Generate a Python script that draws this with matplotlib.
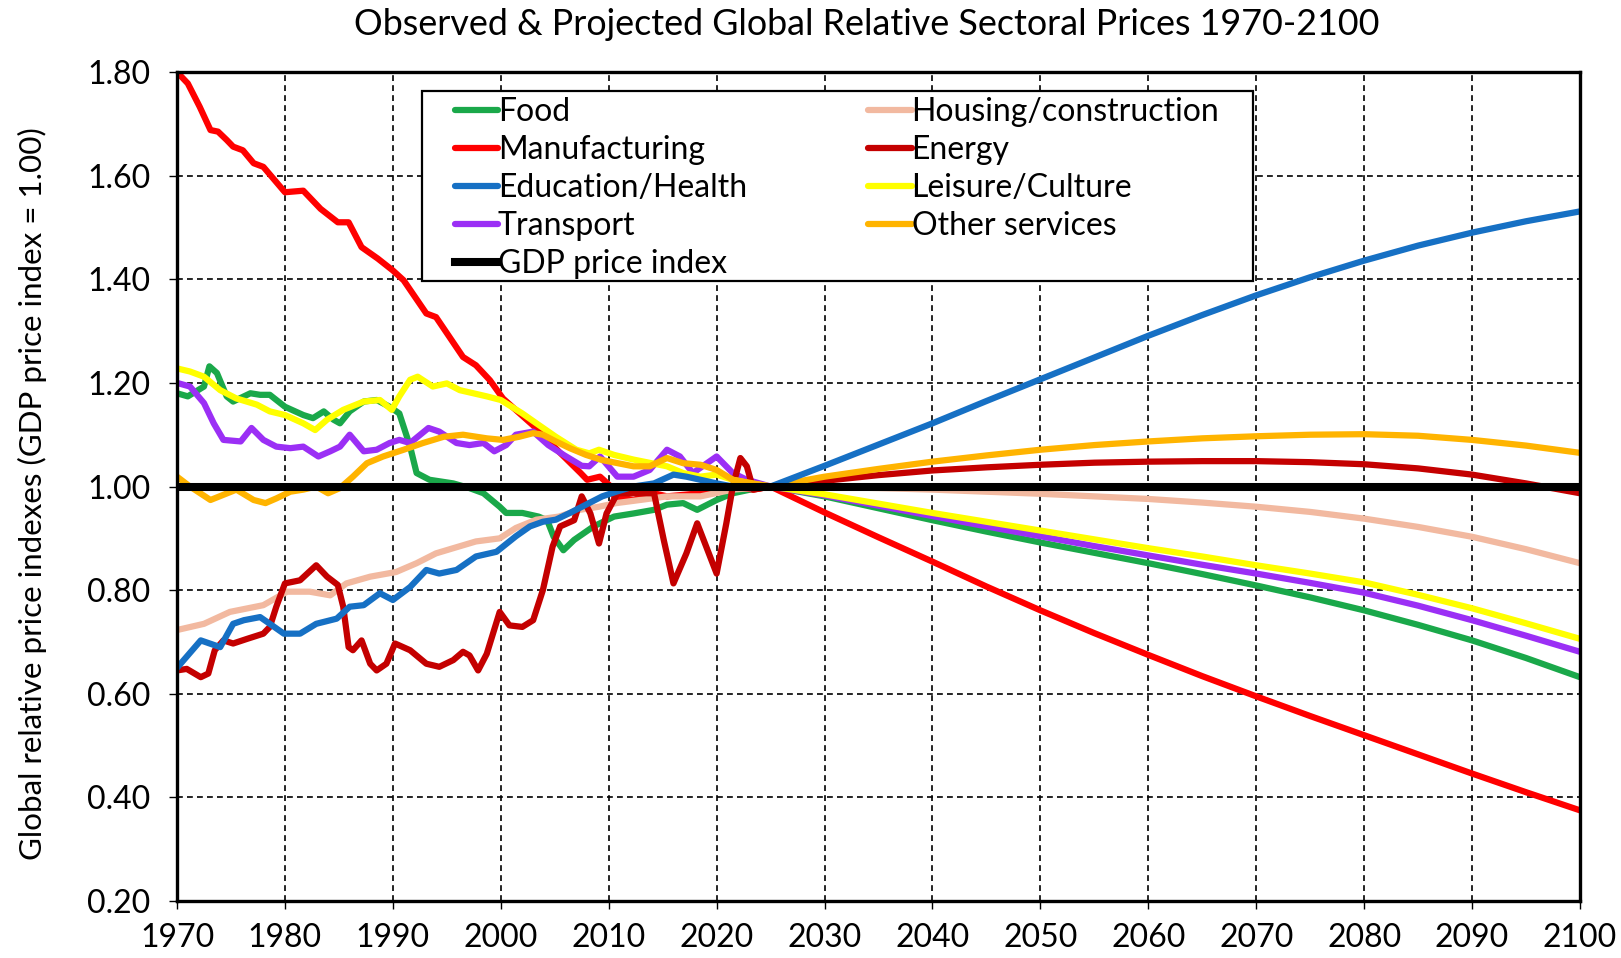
import matplotlib
matplotlib.use("Agg")
from matplotlib import pyplot as plt
from matplotlib.patches import Rectangle
import numpy as np

plt.rcParams['font.family'] = ['Lato', 'DejaVu Sans']

# observed series (year, value)
food_yr = [1970, 1971, 1972.5, 1973, 1973.7, 1974.6, 1975.2, 1976.8, 1977.7, 1978.6,
           1980, 1981.7, 1982.6, 1983.6, 1984.5, 1985.1, 1986, 1987.3, 1988.5, 1989.7,
           1990.6, 1991.6, 1992.2, 1993.4, 1995.6, 1997.1, 1998.4, 1999.9, 2000.5, 2002,
           2003.5, 2004.3, 2004.9, 2005.8, 2006.8, 2008.6, 2010.5, 2012.3, 2014.2, 2015.4,
           2016.9, 2018.2, 2020, 2021.5, 2023.1]
food_val = [1.18, 1.174, 1.193, 1.232, 1.219, 1.174, 1.164, 1.18, 1.177, 1.177,
            1.154, 1.138, 1.132, 1.145, 1.129, 1.122, 1.145, 1.164, 1.167, 1.154,
            1.141, 1.077, 1.026, 1.013, 1.006, 0.997, 0.987, 0.961, 0.949, 0.949,
            0.942, 0.935, 0.903, 0.877, 0.897, 0.923, 0.942, 0.948, 0.955, 0.965,
            0.968, 0.955, 0.974, 0.987, 0.994]

manu_yr = [1970, 1971, 1972.1, 1973.1, 1973.8, 1974.6, 1975.2, 1976.1, 1977.1, 1978,
           1980, 1981.7, 1983.3, 1984.9, 1985.9, 1987.1, 1988.6, 1990, 1991, 1993.1,
           1994, 1996.5, 1997.7, 1999, 2000.2, 2003.1, 2005.5, 2007.4, 2008, 2009.2,
           2010.2, 2010.5, 2012.3, 2014.2, 2015.4, 2018.5, 2020.3, 2021.5, 2023.4]
manu_val = [1.80, 1.778, 1.733, 1.688, 1.685, 1.669, 1.656, 1.649, 1.624, 1.617,
            1.568, 1.571, 1.536, 1.51, 1.51, 1.462, 1.44, 1.417, 1.398, 1.334,
            1.327, 1.25, 1.234, 1.205, 1.17, 1.116, 1.065, 1.026, 1.013, 1.019,
            1.0, 0.981, 0.974, 0.987, 0.981, 0.987, 0.99, 1.0, 0.994]

edu_yr = [1970, 1972.2, 1974, 1975.2, 1976.2, 1977.7, 1978.6, 1979.9, 1981.4, 1982.9,
          1984.8, 1986, 1987.3, 1988.8, 1990, 1991.6, 1993.1, 1994.3, 1995.9, 1997.7,
          1999.6, 2001.4, 2002.7, 2003.9, 2005.1, 2006.4, 2007.9, 2009.4, 2010.7, 2012.3,
          2014.2, 2016, 2017.2, 2018.5, 2020, 2021.5, 2023.1]
edu_val = [0.65, 0.703, 0.69, 0.735, 0.742, 0.748, 0.735, 0.716, 0.716, 0.735,
           0.745, 0.768, 0.771, 0.794, 0.781, 0.806, 0.839, 0.832, 0.839, 0.865,
           0.874, 0.904, 0.923, 0.932, 0.936, 0.949, 0.965, 0.981, 0.99, 1.0,
           1.006, 1.023, 1.019, 1.013, 1.006, 1.0, 0.997]

trans_yr = [1970, 1971.2, 1972.5, 1973.4, 1974.3, 1975.9, 1976.9, 1978, 1979.2, 1980.5,
            1981.7, 1983.1, 1984.2, 1985.1, 1986, 1987.3, 1988.5, 1989.7, 1990.6, 1991.6,
            1993.3, 1994.3, 1995.9, 1997.1, 1998.4, 1999.4, 2000.5, 2001.4, 2003, 2004.4,
            2005.9, 2007.5, 2008.2, 2009.2, 2010.8, 2012.3, 2013.8, 2015.4, 2016.6, 2017.8,
            2020, 2021.5, 2022.8]
trans_val = [1.2, 1.193, 1.161, 1.122, 1.09, 1.087, 1.113, 1.09, 1.077, 1.074,
             1.077, 1.058, 1.068, 1.077, 1.1, 1.068, 1.071, 1.084, 1.09, 1.084,
             1.113, 1.106, 1.084, 1.08, 1.084, 1.068, 1.08, 1.1, 1.106, 1.08,
             1.06, 1.04, 1.039, 1.058, 1.019, 1.019, 1.032, 1.071, 1.058, 1.026,
             1.058, 1.026, 1.013]

house_yr = [1970, 1972.5, 1974.9, 1978, 1980.2, 1982.3, 1984.2, 1985.7, 1987.9, 1990.3,
            1992.2, 1994, 1995.6, 1997.7, 1999.9, 2001.4, 2003.3, 2005.4, 2007.3, 2009.1,
            2010.7, 2012.9, 2015.4, 2018.5, 2021.5]
house_val = [0.723, 0.735, 0.758, 0.771, 0.797, 0.797, 0.79, 0.813, 0.826, 0.835,
             0.852, 0.871, 0.881, 0.894, 0.9, 0.92, 0.936, 0.942, 0.955, 0.961,
             0.968, 0.974, 0.981, 0.981, 0.994]

energy_yr = [1970, 1970.9, 1972.2, 1972.9, 1973.5, 1974.3, 1975.2, 1976.5, 1978, 1978.6,
             1979.2, 1980, 1981.4, 1982.9, 1983.9, 1984.9, 1985.4, 1985.9, 1986.3, 1987.1,
             1987.9, 1988.5, 1989.4, 1990.2, 1991.6, 1993.1, 1994.3, 1995.6, 1996.5, 1997.1,
             1997.9, 1998.7, 1999.9, 2000.8, 2002, 2003, 2003.9, 2004.8, 2005.5, 2006.8,
             2007.5, 2008.3, 2009.1, 2009.8, 2010.8, 2012.3, 2014.2, 2015.1, 2016, 2017.2,
             2018.2, 2020, 2020.9, 2021.5, 2022.2, 2022.8, 2023.4]
energy_val = [0.645, 0.648, 0.632, 0.639, 0.684, 0.703, 0.697, 0.706, 0.716, 0.729,
              0.768, 0.813, 0.819, 0.848, 0.826, 0.81, 0.768, 0.69, 0.684, 0.703,
              0.658, 0.645, 0.658, 0.697, 0.684, 0.658, 0.652, 0.665, 0.681, 0.674,
              0.645, 0.677, 0.758, 0.732, 0.729, 0.742, 0.80, 0.884, 0.923, 0.935,
              0.981, 0.948, 0.89, 0.948, 0.987, 0.987, 0.987, 0.897, 0.813, 0.871,
              0.929, 0.832, 0.929, 1.0, 1.055, 1.039, 0.994]

leis_yr = [1970, 1971.2, 1972.5, 1974, 1975.5, 1977.4, 1978.6, 1980, 1981.7, 1982.8,
           1983.9, 1985.4, 1987.3, 1988.8, 1989.9, 1990.6, 1991.6, 1992.3, 1993.7, 1995,
           1996.2, 1998.7, 2000, 2002, 2003.3, 2005.1, 2007, 2008.2, 2009.1, 2010.5,
           2012.3, 2015.4, 2016.9, 2018.5, 2020, 2021.5, 2023.1]
leis_val = [1.228, 1.222, 1.212, 1.186, 1.17, 1.158, 1.145, 1.138, 1.122, 1.109,
            1.129, 1.148, 1.164, 1.167, 1.148, 1.174, 1.206, 1.212, 1.193, 1.199,
            1.186, 1.174, 1.167, 1.141, 1.122, 1.096, 1.071, 1.064, 1.071, 1.061,
            1.052, 1.039, 1.026, 1.019, 1.023, 1.013, 1.006]

other_yr = [1970, 1971.2, 1973.1, 1974.3, 1975.5, 1977.1, 1978.2, 1979.2, 1980.5, 1981.7,
            1982.9, 1984, 1985.1, 1986.3, 1987.6, 1989.1, 1991, 1992.8, 1994.7, 1996.5,
            1998.7, 2000.2, 2001.7, 2003, 2003.9, 2005.1, 2006.4, 2007.9, 2009.4, 2012.3,
            2013.8, 2015.4, 2016.9, 2018.5, 2020, 2021.5]
other_val = [1.019, 1.0, 0.974, 0.984, 0.994, 0.974, 0.968, 0.977, 0.99, 0.994,
             1.0, 0.987, 0.997, 1.019, 1.045, 1.058, 1.071, 1.084, 1.096, 1.1,
             1.093, 1.09, 1.096, 1.103, 1.1, 1.087, 1.074, 1.061, 1.051, 1.039,
             1.039, 1.055, 1.045, 1.042, 1.032, 1.013]

# projections 2025-2100
proj_yr = [2025, 2030, 2035, 2040, 2045, 2050, 2055, 2060, 2065, 2070, 2075, 2080, 2085, 2090, 2095, 2100]
food_proj = [1.0, 0.981, 0.958, 0.935, 0.913, 0.892, 0.872, 0.852, 0.831, 0.809, 0.786, 0.761, 0.733, 0.703, 0.669, 0.632]
manu_proj = [1.0, 0.950, 0.902, 0.855, 0.807, 0.761, 0.717, 0.675, 0.634, 0.595, 0.557, 0.520, 0.483, 0.446, 0.410, 0.375]
edu_proj = [1.0, 1.040, 1.081, 1.122, 1.165, 1.207, 1.249, 1.291, 1.331, 1.369, 1.404, 1.436, 1.465, 1.490, 1.512, 1.531]
trans_proj = [1.0, 0.983, 0.963, 0.943, 0.923, 0.904, 0.885, 0.867, 0.849, 0.832, 0.814, 0.795, 0.770, 0.742, 0.712, 0.681]
house_proj = [1.0, 0.999, 0.997, 0.994, 0.990, 0.986, 0.981, 0.976, 0.969, 0.961, 0.951, 0.938, 0.922, 0.903, 0.879, 0.852]
energy_proj = [1.0, 1.011, 1.022, 1.031, 1.037, 1.042, 1.046, 1.048, 1.049, 1.049, 1.047, 1.043, 1.035, 1.023, 1.006, 0.987]
leis_proj = [1.0, 0.985, 0.967, 0.949, 0.932, 0.915, 0.898, 0.881, 0.865, 0.848, 0.832, 0.815, 0.791, 0.765, 0.736, 0.706]
other_proj = [1.0, 1.019, 1.034, 1.048, 1.060, 1.071, 1.080, 1.087, 1.093, 1.097, 1.100, 1.101, 1.098, 1.090, 1.079, 1.065]

gdp_yr = [1970, 2100]
gdp_val = [1.0, 1.0]

series = [
    ("Food", food_yr, food_val, food_proj, "#1aa84a"),
    ("Manufacturing", manu_yr, manu_val, manu_proj, "#ff0000"),
    ("Education/Health", edu_yr, edu_val, edu_proj, "#1670c4"),
    ("Transport", trans_yr, trans_val, trans_proj, "#9b2ff5"),
    ("Housing/construction", house_yr, house_val, house_proj, "#f2b9a0"),
    ("Energy", energy_yr, energy_val, energy_proj, "#c40000"),
    ("Leisure/Culture", leis_yr, leis_val, leis_proj, "#ffff00"),
    ("Other services", other_yr, other_val, other_proj, "#ffb400"),
]

fig = plt.figure(figsize=(16.21, 9.58), dpi=100)
ax = fig.add_axes([0.1092, 0.0595, 0.8655, 0.8653])

lines = {}
for name, yr, val, proj, col in series:
    x = list(yr) + proj_yr
    y = list(val) + proj
    lines[name], = ax.plot(x, y, color=col, lw=4.5, solid_capstyle='round',
                           solid_joinstyle='round', zorder=3)
lines["Education/Health"].set_zorder(3.5)

lines["GDP price index"], = ax.plot(gdp_yr, gdp_val, color='black', lw=5.8, zorder=5)

ax.set_xlim(1970, 2100)
ax.set_ylim(0.2, 1.8)
ax.set_xticks(np.arange(1970, 2101, 10))
ax.set_yticks(np.arange(0.2, 1.81, 0.2))
ax.yaxis.set_major_formatter(matplotlib.ticker.FormatStrFormatter('%.2f'))
ax.grid(True, color='black', linestyle=(0, (3.5, 2.5)), linewidth=1.2, zorder=1)
ax.set_axisbelow(True)
for s in ax.spines.values():
    s.set_linewidth(2.4)
    s.set_zorder(6)
ax.tick_params(axis='both', direction='out', length=6, width=1, labelsize=23)
ax.tick_params(axis='y', pad=13)
ax.tick_params(axis='x', pad=10)

ax.set_ylabel("Global relative price indexes (GDP price index = 1.00)", fontsize=22.6,
              va='center')
ax.yaxis.set_label_coords(-0.103, 0.491)
fig.text(0.535, 0.974, "Observed & Projected Global Relative Sectoral Prices 1970-2100",
         ha='center', va='center', fontsize=25.8)

# legend frame drawn separately (wide side padding, tight top/bottom)
ax.add_patch(Rectangle((0.1746, 0.748), 0.5924, 0.229, transform=ax.transAxes,
                       facecolor='white', edgecolor='black', lw=1.6, zorder=7))
order = ["Food", "Manufacturing", "Education/Health", "Transport", "GDP price index",
         "Housing/construction", "Energy", "Leisure/Culture", "Other services"]
leg = ax.legend([lines[n] for n in order], order, ncol=2, loc='upper left',
                bbox_to_anchor=(0.198, 0.970), borderaxespad=0, fontsize=23,
                handlelength=1.35, handletextpad=0.0, labelspacing=0.25,
                columnspacing=3.8, frameon=False, borderpad=0.0)
leg.set_zorder(8)

fig.savefig("out.png", dpi=100)
